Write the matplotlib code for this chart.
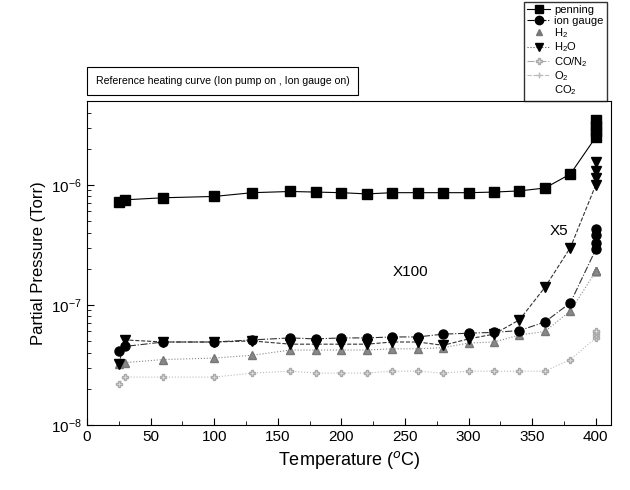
import numpy as np
import matplotlib
matplotlib.use('Agg')
import matplotlib.pyplot as plt
from matplotlib.lines import Line2D

plt.rcParams['font.family'] = ['Liberation Sans', 'DejaVu Sans']
plt.rcParams['mathtext.fontset'] = 'custom'
plt.rcParams['mathtext.rm'] = 'Liberation Sans'

# temperatures (C)
temp = [25, 30, 60, 100, 130, 160, 180, 200, 220, 240, 260, 280, 300, 320, 340, 360, 380,
        400, 400, 400, 400]

penning = [7.2e-7, 7.5e-7, 7.8e-7, 8.0e-7, 8.6e-7, 8.8e-7, 8.7e-7, 8.6e-7, 8.4e-7, 8.6e-7,
           8.6e-7, 8.6e-7, 8.6e-7, 8.7e-7, 8.9e-7, 9.4e-7, 1.23e-6,
           2.5e-6, 2.8e-6, 3.1e-6, 3.5e-6]
ion_gauge = [4.1e-8, 4.5e-8, 4.9e-8, 4.9e-8, 5.1e-8, 5.3e-8, 5.2e-8, 5.3e-8, 5.3e-8, 5.4e-8,
             5.4e-8, 5.7e-8, 5.8e-8, 5.9e-8, 6.1e-8, 7.2e-8, 1.04e-7,
             2.9e-7, 3.3e-7, 3.8e-7, 4.3e-7]
h2o = [3.2e-8, 5.1e-8, 4.9e-8, 4.9e-8, 5.0e-8, 4.7e-8, 4.7e-8, 4.7e-8, 4.7e-8, 4.9e-8,
       4.9e-8, 4.6e-8, 5.2e-8, 5.7e-8, 7.5e-8, 1.4e-7, 3.0e-7,
       1.0e-6, 1.15e-6, 1.3e-6, 1.55e-6]
h2 = [3.2e-8, 3.3e-8, 3.5e-8, 3.6e-8, 3.8e-8, 4.2e-8, 4.2e-8, 4.2e-8, 4.2e-8, 4.3e-8,
      4.3e-8, 4.4e-8, 4.8e-8, 4.9e-8, 5.6e-8, 6.0e-8, 8.9e-8,
      1.9e-7, 1.9e-7, 1.9e-7, 1.9e-7]
co_n2 = [2.2e-8, 2.5e-8, 2.5e-8, 2.5e-8, 2.7e-8, 2.8e-8, 2.7e-8, 2.7e-8, 2.7e-8, 2.8e-8,
         2.8e-8, 2.7e-8, 2.8e-8, 2.8e-8, 2.8e-8, 2.8e-8, 3.5e-8,
         5.3e-8, 5.6e-8, 5.9e-8, 6.1e-8]

fig = plt.figure(figsize=(6.3, 4.9), dpi=100)
ax = fig.add_axes([0.138, 0.133, 0.832, 0.661])

ax.plot(temp, co_n2, color='#bbbbbb', ls=':', lw=0.8, marker='P', ms=5,
        mfc='#dddddd', mec='#aaaaaa', label='CO/N$_2$')
ax.plot(temp, h2, color='#888888', ls=':', lw=0.8, marker='^', ms=6,
        mfc='#888888', mec='#777777', label='H$_2$')
ax.plot(temp, h2o, color='#333333', ls='--', lw=0.8, marker='v', ms=7,
        mfc='black', mec='black', label='H$_2$O')
ax.plot(temp, ion_gauge, color='#333333', ls='-.', lw=0.8, marker='o', ms=6.5,
        mfc='black', mec='black', label='ion gauge')
ax.plot(temp, penning, color='black', ls='-', lw=0.8, marker='s', ms=7,
        mfc='black', mec='black', label='penning')

ax.set_yscale('log')
ax.set_xlim(0, 412)
ax.set_ylim(1e-8, 5e-6)
ax.set_xticks(np.arange(0, 401, 50))
ax.set_xticks(np.arange(0, 401, 25), minor=True)
ax.tick_params(which='both', direction='in', labelsize=11)
ax.tick_params(which='major', length=5)
ax.tick_params(which='minor', length=3)

ax.set_xlabel('Temperature ($^{o}$C)', fontsize=13)
ax.set_ylabel('Partial Pressure (Torr)', fontsize=12)

ax.text(240, 1.75e-7, 'X100', fontsize=11)
ax.text(364, 3.8e-7, 'X5', fontsize=11)

fig.text(0.152, 0.828, 'Reference heating curve (Ion pump on , Ion gauge on)', fontsize=7.6,
         bbox=dict(boxstyle='square,pad=0.85', fc='white', ec='black', lw=0.8))

handles = [
    Line2D([], [], color='black', ls='-', lw=0.8, marker='s', ms=6, mfc='black'),
    Line2D([], [], color='black', ls='-.', lw=0.8, marker='o', ms=6, mfc='black'),
    Line2D([], [], color='#777777', ls='none', marker='^', ms=5, mfc='#777777'),
    Line2D([], [], color='#555555', ls=':', lw=0.8, marker='v', ms=6, mfc='black', mec='black'),
    Line2D([], [], color='#aaaaaa', ls='-.', lw=0.8, marker='P', ms=5, mfc='#dddddd'),
    Line2D([], [], color='#bbbbbb', ls='--', lw=0.8, marker='+', ms=5),
    Line2D([], [], color='white', ls='none'),
]
labels = ['penning', 'ion gauge', 'H$_2$', 'H$_2$O', 'CO/N$_2$', 'O$_2$', 'CO$_2$']
fig.legend(handles, labels, loc='upper right', bbox_to_anchor=(0.972, 1.008), fontsize=8,
           frameon=True, fancybox=False, edgecolor='black', handlelength=2.0,
           labelspacing=0.05, borderpad=0.3, handletextpad=0.4)

fig.savefig('out.png', dpi=100)
